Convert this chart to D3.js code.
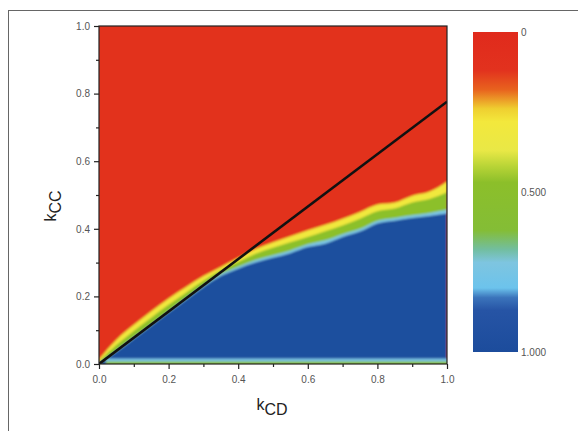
<!DOCTYPE html>
<html>
<head>
<meta charset="utf-8">
<script src="https://cdn.jsdelivr.net/npm/d3@7/dist/d3.min.js"></script>
<style>
  html, body { margin: 0; padding: 0; background: #fff; }
  svg { display: block; font-family: "Liberation Sans", Arial, sans-serif; }
</style>
</head>
<body>
<div id="chart"></div>
<script>
// sampled k_CD positions
const kx = [0, 0.05, 0.1, 0.15, 0.2, 0.25, 0.3, 0.35, 0.4, 0.45, 0.5, 0.55, 0.6, 0.65, 0.7, 0.75, 0.8, 0.85, 0.9, 0.95, 1];
// k_CC where each colour zone ends
const redEdge    = [0.014, 0.072, 0.116, 0.156, 0.194, 0.228, 0.26, 0.287, 0.314, 0.34, 0.36, 0.378, 0.396, 0.412, 0.43, 0.45, 0.472, 0.478, 0.498, 0.51, 0.54];
const yellowEdge = [0.007, 0.056, 0.098, 0.137, 0.175, 0.211, 0.246, 0.277, 0.302, 0.326, 0.344, 0.36, 0.376, 0.393, 0.41, 0.43, 0.452, 0.46, 0.478, 0.488, 0.508];
const greenEdge  = [0.002, 0.04, 0.079, 0.117, 0.156, 0.195, 0.233, 0.266, 0.288, 0.308, 0.322, 0.336, 0.354, 0.366, 0.384, 0.4, 0.424, 0.432, 0.44, 0.447, 0.456];
const blueEdge   = [0, 0.036, 0.075, 0.113, 0.152, 0.19, 0.228, 0.26, 0.282, 0.3, 0.314, 0.328, 0.346, 0.356, 0.376, 0.392, 0.416, 0.424, 0.432, 0.438, 0.445];
// thin strips along k_CC = 0
const bottomLightBlue = 0.016;
const bottomGreen = 0.007;
// black reference line
const refLine = [[0, 0], [1, 0.776]];

const majorTicks = [0, 0.2, 0.4, 0.6, 0.8, 1.0];
const minorTicks = [0.1, 0.3, 0.5, 0.7, 0.9];

const cbTicks = [0, 0.5, 1];
const cbLabels = ["0", "0.500", "1.000"];
const cbStops = [
  [0, "#e02a1c"], [0.12, "#e2321e"], [0.18, "#e8621e"], [0.24, "#efcf30"],
  [0.28, "#f3e83c"], [0.37, "#e9e846"], [0.42, "#b8d436"], [0.47, "#8cbf2a"],
  [0.62, "#84bd36"], [0.68, "#72bea0"], [0.72, "#7ec5e0"], [0.8, "#6cc3ec"],
  [0.83, "#3b74bb"], [0.87, "#2654a5"], [1, "#1c4c9c"]
];

const RED = "#e2321f", YELLOW = "#f1e83c", GREEN = "#8cc02c", LIGHTBLUE = "#7cc6e6", BLUE = "#1c4f9e";

const W = 578, H = 431;
const svg = d3.select("#chart").append("svg").attr("width", W).attr("height", H);

// outer frame
svg.append("rect").attr("x", 8.5).attr("y", 10.5).attr("width", 620).attr("height", 460)
  .attr("fill", "none").attr("stroke", "#666").attr("stroke-width", 1);

const x = d3.scaleLinear().domain([0, 1]).range([99, 447]);
const y = d3.scaleLinear().domain([0, 1]).range([364, 26]);

const defs = svg.append("defs");
defs.append("clipPath").attr("id", "plotClip").append("rect")
  .attr("x", x(0)).attr("y", y(1)).attr("width", x(1) - x(0)).attr("height", y(0) - y(1));
defs.append("filter").attr("id", "soft").attr("x", "-5%").attr("y", "-5%").attr("width", "110%").attr("height", "110%")
  .append("feGaussianBlur").attr("stdDeviation", 0.9);

const plot = svg.append("g").attr("clip-path", "url(#plotClip)");
const heat = plot.append("g").attr("filter", "url(#soft)");

heat.append("rect").attr("x", x(0) - 4).attr("y", y(1) - 4)
  .attr("width", x(1) - x(0) + 8).attr("height", y(0) - y(1) + 8).attr("fill", RED);

const band = (edge) => d3.area()
  .x((d, i) => x(kx[i]))
  .y0(y(0) + 4)
  .y1((d, i) => y(edge[i]))
  .curve(d3.curveMonotoneX)(edge);

[[redEdge, YELLOW], [yellowEdge, GREEN], [greenEdge, LIGHTBLUE], [blueEdge, BLUE]].forEach(([edge, c]) => {
  heat.append("path").attr("d", band(edge)).attr("fill", c);
});

heat.append("rect").attr("x", x(0.02)).attr("width", x(1) - x(0.02) + 4)
  .attr("y", y(bottomLightBlue)).attr("height", y(0) - y(bottomLightBlue) + 4).attr("fill", LIGHTBLUE);
heat.append("rect").attr("x", x(0.02)).attr("width", x(1) - x(0.02) + 4)
  .attr("y", y(bottomGreen)).attr("height", y(0) - y(bottomGreen) + 4).attr("fill", GREEN);

plot.append("path")
  .attr("d", d3.line().x(d => x(d[0])).y(d => y(d[1]))(refLine))
  .attr("stroke", "#111").attr("stroke-width", 2.6).attr("fill", "none");

// plot box
svg.append("rect").attr("x", x(0)).attr("y", y(1)).attr("width", x(1) - x(0)).attr("height", y(0) - y(1))
  .attr("fill", "none").attr("stroke", "#222").attr("stroke-width", 1.2);

function styleAxis(g) {
  g.select(".domain").remove();
  g.selectAll("line").attr("stroke", "#222").attr("stroke-width", 1.2);
  g.selectAll("text").attr("fill", "#555").style("font-size", "10px");
}

svg.append("g").attr("transform", `translate(${x(0)},0)`)
  .call(d3.axisLeft(y).tickValues(majorTicks).tickFormat(d3.format(".1f")).tickSize(5).tickPadding(4))
  .call(styleAxis);
svg.append("g").attr("transform", `translate(${x(0)},0)`)
  .call(d3.axisLeft(y).tickValues(minorTicks).tickFormat("").tickSize(3))
  .call(styleAxis);
svg.append("g").attr("transform", `translate(0,${y(0)})`)
  .call(d3.axisBottom(x).tickValues(majorTicks).tickFormat(d3.format(".1f")).tickSize(5).tickPadding(7))
  .call(styleAxis);
svg.append("g").attr("transform", `translate(0,${y(0)})`)
  .call(d3.axisBottom(x).tickValues(minorTicks).tickFormat("").tickSize(3))
  .call(styleAxis);

// axis titles
const xt = svg.append("text").attr("x", 272).attr("y", 410).attr("text-anchor", "middle")
  .attr("fill", "#222").style("font-size", "16px");
xt.append("tspan").text("k");
xt.append("tspan").attr("dy", 5).text("CD");

const yt = svg.append("text").attr("transform", "translate(56,206) rotate(-90)")
  .attr("text-anchor", "middle").attr("fill", "#222").style("font-size", "16px");
yt.append("tspan").text("k");
yt.append("tspan").attr("dy", 5).text("CC");

// colour bar
const cb = d3.scaleLinear().domain([0, 1]).range([32, 352]);
const grad = defs.append("linearGradient").attr("id", "cbGrad")
  .attr("x1", 0).attr("y1", 0).attr("x2", 0).attr("y2", 1);
cbStops.forEach(([o, c]) => grad.append("stop").attr("offset", o).attr("stop-color", c));

svg.append("rect").attr("x", 473).attr("y", cb(0)).attr("width", 45).attr("height", cb(1) - cb(0))
  .attr("fill", "url(#cbGrad)");

svg.append("g").attr("transform", "translate(518,0)")
  .call(d3.axisRight(cb).tickValues(cbTicks).tickFormat((d, i) => cbLabels[i]).tickSize(0).tickPadding(3))
  .call(g => {
    g.select(".domain").remove();
    g.selectAll("text").attr("fill", "#555").style("font-size", "10px");
  });
</script>
</body>
</html>
